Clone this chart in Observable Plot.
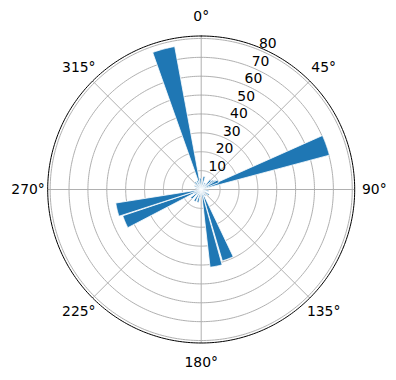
<!DOCTYPE html>
<html>
<head>
<meta charset="utf-8">
<script src="https://cdn.jsdelivr.net/npm/d3@7"></script>
<script src="https://cdn.jsdelivr.net/npm/@observablehq/plot@0.6"></script>
<style>
  html, body { margin: 0; padding: 0; background: #fff; }
  svg { display: block; }
</style>
</head>
<body>
<div id="chart"></div>
<script>
// ---- data ----
const rMax = 81.3;
const rTicks = [10, 20, 30, 40, 50, 60, 70, 80];
const thetaTicks = [0, 45, 90, 135, 180, 225, 270, 315];
const thetaLabels = ["0°", "45°", "90°", "135°", "180°", "225°", "270°", "315°"];
const barTheta = [345, 70.5, 247, 256.5, 159, 169, 13, 46, 55, 60, 64, 30, 100, 125, 145, 185, 195, 209, 228, 240, 280, 300, 320, 335, 355];
const barValue = [77, 70.3, 43.8, 45.8, 39.4, 41.4, 7, 7, 8, 9, 10, 4, 4, 5, 4, 4, 7, 7, 7, 4, 3, 4, 5, 5, 6];
const barWidth = 9; // degrees

// ---- helpers ----
const pol = (r, deg) => { const a = deg * Math.PI / 180; return [r * Math.sin(a), r * Math.cos(a)]; };

const barPts = barTheta.flatMap((t, i) => {
  const v = barValue[i];
  const pts = [{id: i, x: 0, y: 0}];
  const n = 24;
  for (let k = 0; k <= n; k++) {
    const [x, y] = pol(v, t - barWidth / 2 + barWidth * k / n);
    pts.push({id: i, x, y});
  }
  pts.push({id: i, x: 0, y: 0});
  return pts;
});

const circle = (r) => d3.range(0, 361, 1).map(a => { const [x, y] = pol(r, a); return {r, x, y}; });
const gridPts = rTicks.flatMap(circle);
const outerPts = circle(rMax);

const labelR = 91.7;
const chart = Plot.plot({
  width: 396,
  height: 380,
  marginLeft: 47.2,
  marginRight: 41.8,
  marginTop: 35.5,
  marginBottom: 37.5,
  x: {domain: [-rMax, rMax], axis: null},
  y: {domain: [-rMax, rMax], axis: null},
  style: {fontFamily: "DejaVu Sans", background: "white", color: "black"},
  marks: [
    Plot.line(gridPts, {x: "x", y: "y", z: "r", stroke: "#b0b0b0", strokeWidth: 1}),
    Plot.link(thetaTicks, {x1: 0, y1: 0, x2: d => pol(rMax, d)[0], y2: d => pol(rMax, d)[1], stroke: "#b0b0b0", strokeWidth: 1}),
    Plot.line(barPts, {x: "x", y: "y", z: "id", fill: "#1f77b4", stroke: "white", strokeWidth: 0.8, strokeLinejoin: "miter"}),
    Plot.line(outerPts, {x: "x", y: "y", stroke: "black", strokeWidth: 1}),
    Plot.text(rTicks, {x: d => pol(d, 22.5)[0], y: d => pol(d, 22.5)[1], text: d => String(d), textAnchor: "start", lineAnchor: "middle", dy: -6, fontSize: 13.9, fill: "black"}),
    Plot.text(thetaTicks, {x: d => pol(labelR, d)[0], y: d => pol(labelR, d)[1], text: (d, i) => thetaLabels[i], textAnchor: "middle", lineAnchor: "middle", fontSize: 13.9, fill: "black"})
  ]
});
document.getElementById("chart").appendChild(chart);
</script>
</body>
</html>
